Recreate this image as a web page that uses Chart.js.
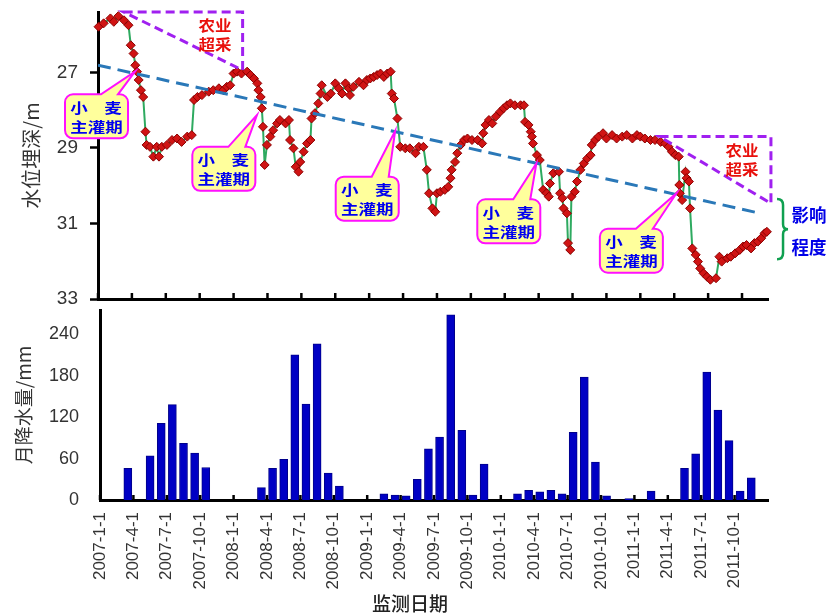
<!DOCTYPE html>
<html>
<head>
<meta charset="utf-8">
<script src="https://cdn.jsdelivr.net/npm/chart.js@4.4.1/dist/chart.umd.min.js"></script>
<style>
  body { margin: 0; background: #fff; }
  #wrap { position: relative; width: 826px; height: 616px; }
  canvas { position: absolute; left: 0; }
  #levelChart { top: 0; }
  #rainChart { top: 300px; }
</style>
</head>
<body>
<div id="wrap">
  <canvas id="levelChart" width="826" height="312"></canvas>
  <canvas id="rainChart" width="826" height="316"></canvas>
</div>
<script>
// Eixo x comum: meses desde 2007-1-1
const xTickLabels = ['2007-1-1', '2007-4-1', '2007-7-1', '2007-10-1', '2008-1-1', '2008-4-1', '2008-7-1', '2008-10-1',
    '2009-1-1', '2009-4-1', '2009-7-1', '2009-10-1', '2010-1-1', '2010-4-1', '2010-7-1', '2010-10-1',
    '2011-1-1', '2011-4-1', '2011-7-1', '2011-10-1'];
const depthTicks = [27, 29, 31, 33];
const rainTicks = [0, 60, 120, 180, 240];

// 水位埋深 (m)
const levelMonths = [0.05, 0.5, 1.1, 1.4, 1.8, 2.3, 2.7, 2.9, 3.15, 3.3, 3.45, 3.6, 3.8, 4.0, 4.2, 4.3, 4.6, 4.9, 5.2, 5.4,
    5.65, 6.1, 6.55, 7.0, 7.4, 7.9, 8.3, 8.5, 8.8, 9.2, 9.8, 10.2, 10.7, 11.1, 11.4, 11.7, 12.0, 12.3, 12.7, 13.2,
    13.5, 13.8, 14.1, 14.2, 14.4, 14.5, 14.6, 14.75, 14.95, 15.25, 15.5, 15.85, 16.1, 16.6, 16.9, 17.0, 17.3, 17.5, 17.75, 17.9,
    18.2, 18.5, 18.8, 18.9, 19.2, 19.5, 19.7, 19.8, 20.3, 20.6, 21.0, 21.3, 21.6, 21.9, 22.2, 22.3, 22.6, 23.1, 23.5, 23.8,
    24.1, 24.4, 24.7, 25.0, 25.3, 25.6, 25.9, 26.0, 26.2, 26.5, 26.75, 27.2, 27.6, 28.1, 28.4, 28.8, 29.1, 29.3, 29.6, 29.85,
    30.0, 30.3, 30.7, 31.0, 31.2, 31.3, 31.6, 31.8, 32.1, 32.4, 32.7, 33.1, 33.6, 34.0, 34.1, 34.3, 34.6, 34.9, 35.2, 35.6,
    35.9, 36.2, 36.5, 36.9, 37.4, 37.7, 37.8, 38.1, 38.3, 38.4, 38.5, 38.85, 39.1, 39.4, 39.7, 39.9, 40.0, 40.3, 40.8, 40.9,
    41.1, 41.2, 41.5, 41.6, 41.8, 41.9, 42.2, 42.4, 42.7, 43.0, 43.3, 43.6, 43.7, 44.0, 44.3, 44.7, 45.0, 45.5, 45.9, 46.4,
    46.8, 47.3, 47.7, 48.0, 48.4, 48.9, 49.3, 49.8, 50.2, 50.5, 50.8, 51.1, 51.4, 51.45, 51.5, 51.7, 52.0, 52.1, 52.3, 52.4,
    52.6, 52.9, 53.1, 53.3, 53.6, 53.9, 54.2, 54.7, 55.0, 55.2, 55.7, 56.0, 56.4, 56.8, 57.1, 57.4, 57.8, 58.1, 58.4, 58.7,
    59.0, 59.2];
const levelDepth = [25.79, 25.70, 25.57, 25.66, 25.51, 25.62, 25.75, 26.28, 26.50, 26.81, 26.98, 27.20, 27.47, 27.65, 28.57, 28.92, 28.97, 29.23, 28.97, 29.23,
    28.97, 28.92, 28.79, 28.75, 28.84, 28.70, 28.66, 27.73, 27.65, 27.60, 27.51, 27.47, 27.42, 27.47, 27.38, 27.34, 27.03, 26.98, 27.03, 26.98,
    27.07, 27.16, 27.29, 27.47, 27.65, 27.95, 28.44, 29.45, 28.92, 28.70, 28.53, 28.35, 28.26, 28.35, 28.26, 28.79, 29.01, 29.50, 29.63, 29.37,
    29.10, 28.88, 28.79, 28.22, 28.08, 27.82, 27.56, 27.34, 27.65, 27.56, 27.29, 27.42, 27.56, 27.29, 27.42, 27.60, 27.38, 27.25, 27.34, 27.20,
    27.16, 27.12, 27.07, 27.03, 27.12, 27.03, 26.98, 27.56, 27.69, 28.22, 28.97, 29.01, 29.01, 29.14, 28.97, 28.97, 29.58, 30.20, 30.60, 30.69,
    30.20, 30.16, 30.11, 30.03, 29.80, 29.58, 29.37, 29.14, 28.92, 28.79, 28.75, 28.79, 28.79, 28.88, 28.61, 28.39, 28.26, 28.35, 28.17, 28.04,
    27.95, 27.87, 27.82, 27.87, 27.87, 27.87, 28.31, 28.39, 28.57, 28.70, 28.88, 29.19, 29.32, 30.11, 30.20, 30.29, 29.94, 29.67, 29.63, 30.20,
    30.33, 30.60, 30.73, 31.52, 31.70, 30.29, 30.16, 29.89, 29.58, 29.41, 29.28, 29.19, 28.92, 28.79, 28.70, 28.61, 28.75, 28.66, 28.75, 28.70,
    28.66, 28.75, 28.66, 28.70, 28.75, 28.79, 28.79, 28.84, 28.88, 28.97, 29.10, 29.19, 29.23, 29.98, 30.20, 30.38, 29.63, 29.80, 29.89, 30.60,
    31.66, 31.83, 32.01, 32.19, 32.32, 32.41, 32.49, 32.45, 31.88, 32.01, 31.92, 31.88, 31.79, 31.70, 31.61, 31.57, 31.66, 31.52, 31.48, 31.39,
    31.26, 31.22];

// Linha de tendência
const trendMonths = [0, 58.6];
const trendDepth = [26.81, 30.73];

// 月降水量 (mm), 2007-1 .. 2011-12
const rainfall = [
    0, 0, 46, 0, 64, 111, 138, 82, 68, 47, 0, 0,
    0, 0, 18, 46, 59, 210, 139, 226, 39, 20, 0, 0,
    0, 9, 7, 6, 30, 74, 91, 268, 101, 7, 52, 0,
    0, 9, 14, 12, 14, 9, 98, 178, 55, 6, 0, 2,
    0, 13, 0, 0, 46, 67, 185, 130, 86, 13, 32, 0
];

Chart.defaults.font.family = '"Liberation Sans", Arial, sans-serif';
Chart.defaults.color = '#333';

const CJK = '"Noto Sans CJK SC", sans-serif';

// Sem folga extra do rótulo nas pontas do eixo y
function noEdgePad(s, width) {
    s.width = width;
    s.paddingTop = 0;
    s.paddingBottom = 0;
}

// Ticks internos do eixo x
const innerTicks = {
    id: 'innerTicks',
    afterDraw(chart, args, opts) {
        const xs = chart.scales.x;
        const ctx = chart.ctx;
        ctx.save();
        ctx.strokeStyle = '#000';
        ctx.lineWidth = 2.5;
        xs.ticks.forEach(t => {
            const px = xs.getPixelForValue(t.value);
            ctx.beginPath();
            ctx.moveTo(px, xs.top);
            ctx.lineTo(px, xs.top - opts.length);
            ctx.stroke();
        });
        ctx.restore();
    }
};

// Anotações do gráfico de cima
const overdraft = [
    [[2.27, 25.4], [12.8, 25.4], [12.8, 26.94]],
    [[49.7, 28.70], [59.56, 28.70], [59.56, 30.47]]
];
const overdraftText = [[10.35, 25.75], [57.0, 29.06]];
const callouts = [
    { tip: [3.27, 26.98], box: [-2.92, 27.58] },
    { tip: [14.07, 28.13], box: [8.35, 28.97] },
    { tip: [26.3, 28.55], box: [21.04, 29.76] },
    { tip: [38.8, 29.41], box: [33.57, 30.36] },
    { tip: [51.2, 30.2], box: [44.42, 31.14] }
];

function stretchText(ctx, txt, x, y, sx) {
    ctx.save();
    ctx.translate(x, y);
    ctx.scale(sx, 1);
    ctx.fillText(txt, 0, 0);
    ctx.restore();
}

const annotations = {
    id: 'annotations',
    afterDraw(chart) {
        const ctx = chart.ctx;
        const xs = chart.scales.x, ys = chart.scales.y;
        const P = (p) => [xs.getPixelForValue(p[0]), ys.getPixelForValue(p[1])];
        ctx.save();

        // triângulos 农业超采
        ctx.strokeStyle = '#a020f0';
        ctx.lineWidth = 3;
        ctx.setLineDash([9, 5]);
        overdraft.forEach(tri => {
            const pts = tri.map(P);
            ctx.beginPath();
            ctx.moveTo(pts[0][0], pts[0][1]);
            ctx.lineTo(pts[1][0], pts[1][1]);
            ctx.lineTo(pts[2][0], pts[2][1]);
            ctx.closePath();
            ctx.stroke();
        });
        ctx.setLineDash([]);

        ctx.fillStyle = '#e8100c';
        ctx.font = 'bold 15px ' + CJK;
        ctx.textAlign = 'center';
        ctx.textBaseline = 'middle';
        overdraftText.forEach(p => {
            const [x, y] = P(p);
            stretchText(ctx, '农业', x, y, 1.1);
            stretchText(ctx, '超采', x, y + 19, 1.1);
        });

        // balões 小麦主灌期
        const w = 63, h = 44, r = 8;
        callouts.forEach(c => {
            const [tx, ty] = P(c.tip);
            const [bx, by] = P(c.box);
            ctx.beginPath();
            ctx.moveTo(bx + r, by);
            ctx.lineTo(bx + 36, by);
            ctx.lineTo(tx, ty);
            ctx.lineTo(bx + 53, by);
            ctx.lineTo(bx + w - r, by);
            ctx.arcTo(bx + w, by, bx + w, by + r, r);
            ctx.lineTo(bx + w, by + h - r);
            ctx.arcTo(bx + w, by + h, bx + w - r, by + h, r);
            ctx.lineTo(bx + r, by + h);
            ctx.arcTo(bx, by + h, bx, by + h - r, r);
            ctx.lineTo(bx, by + r);
            ctx.arcTo(bx, by, bx + r, by, r);
            ctx.closePath();
            ctx.fillStyle = '#ffff9c';
            ctx.fill();
            ctx.strokeStyle = '#ff10ff';
            ctx.lineWidth = 2;
            ctx.stroke();

            ctx.fillStyle = '#0000f0';
            ctx.font = 'bold 14px ' + CJK;
            stretchText(ctx, '小', bx + 14, by + 13, 1.25);
            stretchText(ctx, '麦', bx + 48, by + 13, 1.25);
            stretchText(ctx, '主灌期', bx + w / 2, by + 32, 1.25);
        });

        // chave 影响程度
        const [kx, kTop] = P([60.1, 30.35]);
        const kBot = ys.getPixelForValue(31.95);
        const kMid = (kTop + kBot) / 2;
        ctx.strokeStyle = '#10a050';
        ctx.lineWidth = 2.5;
        ctx.beginPath();
        ctx.moveTo(kx, kTop);
        ctx.quadraticCurveTo(kx + 6, kTop, kx + 6, kTop + 6);
        ctx.lineTo(kx + 6, kMid - 5);
        ctx.quadraticCurveTo(kx + 6, kMid, kx + 11, kMid);
        ctx.quadraticCurveTo(kx + 6, kMid, kx + 6, kMid + 5);
        ctx.lineTo(kx + 6, kBot - 6);
        ctx.quadraticCurveTo(kx + 6, kBot, kx, kBot);
        ctx.stroke();

        ctx.fillStyle = '#0000e8';
        ctx.font = 'bold 18px ' + CJK;
        ctx.textAlign = 'center';
        stretchText(ctx, '影响', kx + 32, kMid - 14, 0.97);
        stretchText(ctx, '程度', kx + 32, kMid + 18, 0.97);
        ctx.restore();
    }
};

// Gráfico de cima: 水位埋深
new Chart(document.getElementById('levelChart'), {
    type: 'line',
    data: {
        datasets: [
            {
                label: 'trend',
                data: trendMonths.map((m, i) => ({ x: m, y: trendDepth[i] })),
                borderColor: '#2a78b8',
                borderWidth: 3,
                borderDash: [13, 7],
                pointRadius: 0,
                order: 0
            },
            {
                label: '水位埋深',
                data: levelMonths.map((m, i) => ({ x: m, y: levelDepth[i] })),
                borderColor: '#2eaa60',
                borderWidth: 2,
                pointStyle: 'rectRot',
                pointRadius: 4.5,
                pointBackgroundColor: '#d01414',
                pointBorderColor: '#8b0000',
                pointBorderWidth: 1,
                clip: false,
                order: 1
            }
        ]
    },
    options: {
        responsive: false,
        animation: false,
        layout: { padding: { left: 0, right: 58, top: 12, bottom: 0 } },
        plugins: { legend: { display: false }, tooltip: { enabled: false }, innerTicks: { length: 6 } },
        scales: {
            x: {
                type: 'linear',
                min: 0,
                max: 59.3,
                afterBuildTicks: s => { s.ticks = xTickLabels.map((l, i) => ({ value: i * 3 })); },
                afterFit: s => { s.height = 13; s.paddingLeft = 0; s.paddingRight = 0; },
                ticks: { display: false },
                grid: { display: false, drawTicks: false },
                border: { display: true, color: '#000', width: 3 }
            },
            y: {
                reverse: true,
                min: 25.4,
                max: 33,
                afterBuildTicks: s => { s.ticks = depthTicks.map(v => ({ value: v })); },
                afterFit: s => noEdgePad(s, 98),
                ticks: { font: { size: 19 }, color: '#333', padding: 12 },
                grid: { drawOnChartArea: false, drawTicks: true, tickLength: 8, tickWidth: 2.5, tickColor: '#000' },
                border: { display: true, color: '#000', width: 3 },
                title: { display: true, text: '水位埋深/m', font: { size: 20, family: CJK }, color: '#333', padding: { top: 19, bottom: 0 } }
            }
        }
    },
    plugins: [innerTicks, annotations]
});

// Título do eixo x de baixo
const xTitle = {
    id: 'xTitle',
    afterDraw(chart) {
        const ctx = chart.ctx;
        const ca = chart.chartArea;
        ctx.save();
        ctx.fillStyle = '#222';
        ctx.font = '500 19px ' + CJK;
        ctx.textAlign = 'center';
        ctx.textBaseline = 'middle';
        ctx.fillText('监测日期', (ca.left + ca.right) / 2 - 24, chart.height - 12);
        ctx.restore();
    }
};

// Gráfico de baixo: 月降水量
new Chart(document.getElementById('rainChart'), {
    type: 'bar',
    data: {
        datasets: [{
            label: '月降水量',
            data: rainfall.map((v, i) => ({ x: i + 0.5, y: v })),
            backgroundColor: '#0000c4',
            borderColor: '#00008a',
            borderWidth: 1,
            barThickness: 8
        }]
    },
    options: {
        responsive: false,
        animation: false,
        layout: { padding: { left: 0, right: 58, top: 10, bottom: 0 } },
        plugins: { legend: { display: false }, tooltip: { enabled: false }, innerTicks: { length: 5 } },
        scales: {
            x: {
                type: 'linear',
                min: 0,
                max: 60,
                offset: false,
                afterBuildTicks: s => { s.ticks = xTickLabels.map((l, i) => ({ value: i * 3 })); },
                afterFit: s => { s.height = 116; s.paddingLeft = 0; s.paddingRight = 0; },
                ticks: {
                    autoSkip: false,
                    maxRotation: 90,
                    minRotation: 90,
                    padding: 12,
                    font: { size: 17 },
                    color: '#333',
                    callback: (v, i) => xTickLabels[i]
                },
                grid: { display: false, drawTicks: false, offset: false },
                border: { display: true, color: '#000', width: 3 }
            },
            y: {
                min: 0,
                max: 275,
                afterBuildTicks: s => { s.ticks = rainTicks.map(v => ({ value: v })); },
                afterFit: s => noEdgePad(s, 100),
                ticks: { font: { size: 18 }, color: '#333', padding: 21 },
                grid: { display: false, drawTicks: false },
                border: { display: true, color: '#000', width: 3 },
                title: { display: true, text: '月降水量/mm', font: { size: 19, family: CJK }, color: '#333', padding: { top: 12, bottom: 0 } }
            }
        }
    },
    plugins: [innerTicks, xTitle]
});
</script>
</body>
</html>
